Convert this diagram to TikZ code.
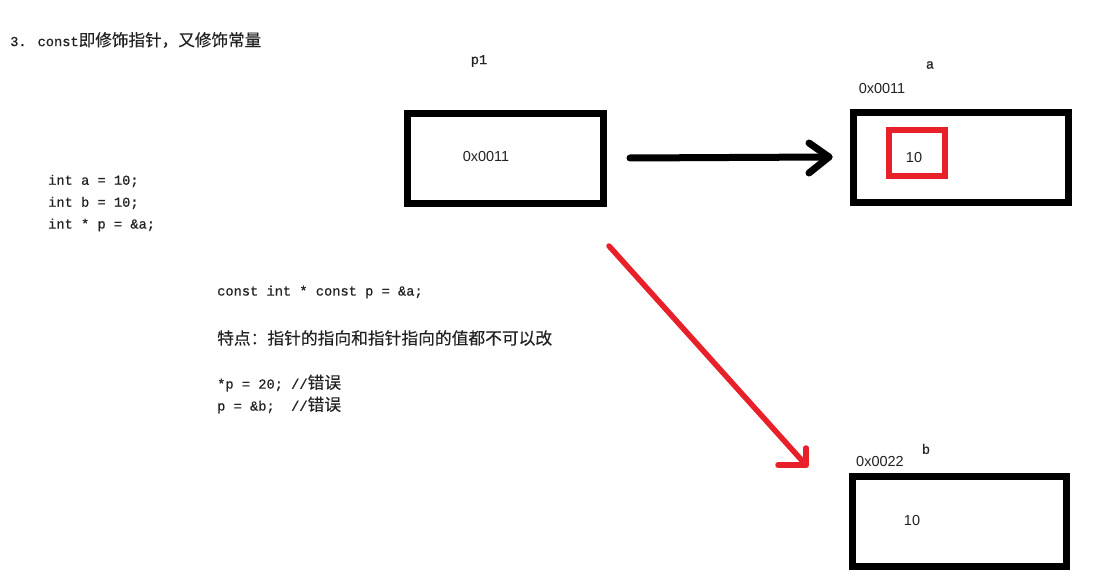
\documentclass[tikz,border=0pt]{standalone}
\usepackage{fontspec}
\setmainfont{Liberation Sans}
\setmonofont{Liberation Mono}
\newfontfamily\codefont[FakeBold=0.6]{Liberation Mono}
\newfontfamily\cjk[FakeBold=0.3]{Noto Sans CJK SC}
\definecolor{redline}{HTML}{E8202A}
\definecolor{txt}{HTML}{222222}
\begin{document}
\begin{tikzpicture}[x=1pt,y=-1pt,
  membox/.style={draw=black,line width=7pt,minimum width=214.5pt,minimum height=89.5pt,inner sep=0pt},
  redbox/.style={draw=redline,line width=6pt,minimum width=56.5pt,minimum height=46pt,inner sep=0pt},
  code/.style={anchor=west,inner sep=0pt,text=txt,font=\codefont\fontsize{13.7}{16}\selectfont},
  lbl/.style={anchor=center,inner sep=0pt,text=txt,font=\fontsize{14.5}{16}\selectfont},
  blkarrow/.style={line width=7pt,line cap=round,line join=round},
  redarrow/.style={draw=redline,line width=5.5pt,line cap=round,line join=round}]
\useasboundingbox[fill=white] (0,0) rectangle (1114,588);
% title
\node[code] (title) at (10,40) {3. const{\cjk\fontsize{16.6}{18}\selectfont 即修饰指针，又修饰常量}};
% left code
\node[code] (c1) at (48,181) {int a = 10;};
\node[code] (c2) at (48,203) {int b = 10;};
\node[code] (c3) at (48,225) {int * p = \&a;};
\node[code] (c4) at (217,292) {const int * const p = \&a;};
\node[code] (c5) at (217,338) {{\cjk\fontsize{16.75}{18}\selectfont 特点：指针的指向和指针指向的值都不可以改}};
\node[code] (c6) at (217,383) {*p = 20; //{\cjk\fontsize{16.75}{18}\selectfont 错误}};
\node[code] (c7) at (217,405) {p = \&b;\ \ //{\cjk\fontsize{16.75}{18}\selectfont 错误}};
% boxes
\node[membox,minimum width=195.5pt,minimum height=90.5pt] (p1) at (505.25,158.75) {};
\node[lbl] (p1v) at (486,157) {0x0011};
\node[code,anchor=center] (p1n) at (479,61) {p1};
\node[membox] (a) at (960.75,157.75) {};
\node[redbox] (ar) at (916.75,153) {};
\node[lbl] (av) at (914,158) {10};
\node[lbl,anchor=center] (aaddr) at (882,89) {0x0011};
\node[code,anchor=center] (an) at (930,65) {a};
\node[membox] (b) at (959.25,521.25) {};
\node[lbl] (bv) at (912,521) {10};
\node[lbl] (baddr) at (880,462) {0x0022};
\node[code,anchor=center] (bn) at (926,449) {b};
% black arrow
\coordinate (bs) at (630,158);
\coordinate (bt) at (829,157);
\draw[blkarrow] (bs) -- (bt);
\draw[blkarrow] (bt) ++(-20,-14) -- (bt) -- ++(-20,16);
% red arrow
\coordinate (rs) at (609,246);
\coordinate (rt) at (806,465);
\draw[redarrow] (rs) -- (rt);
\draw[redarrow] (rt) ++(-28,0) -- (rt) -- ++(0,-17);
\end{tikzpicture}
\end{document}
